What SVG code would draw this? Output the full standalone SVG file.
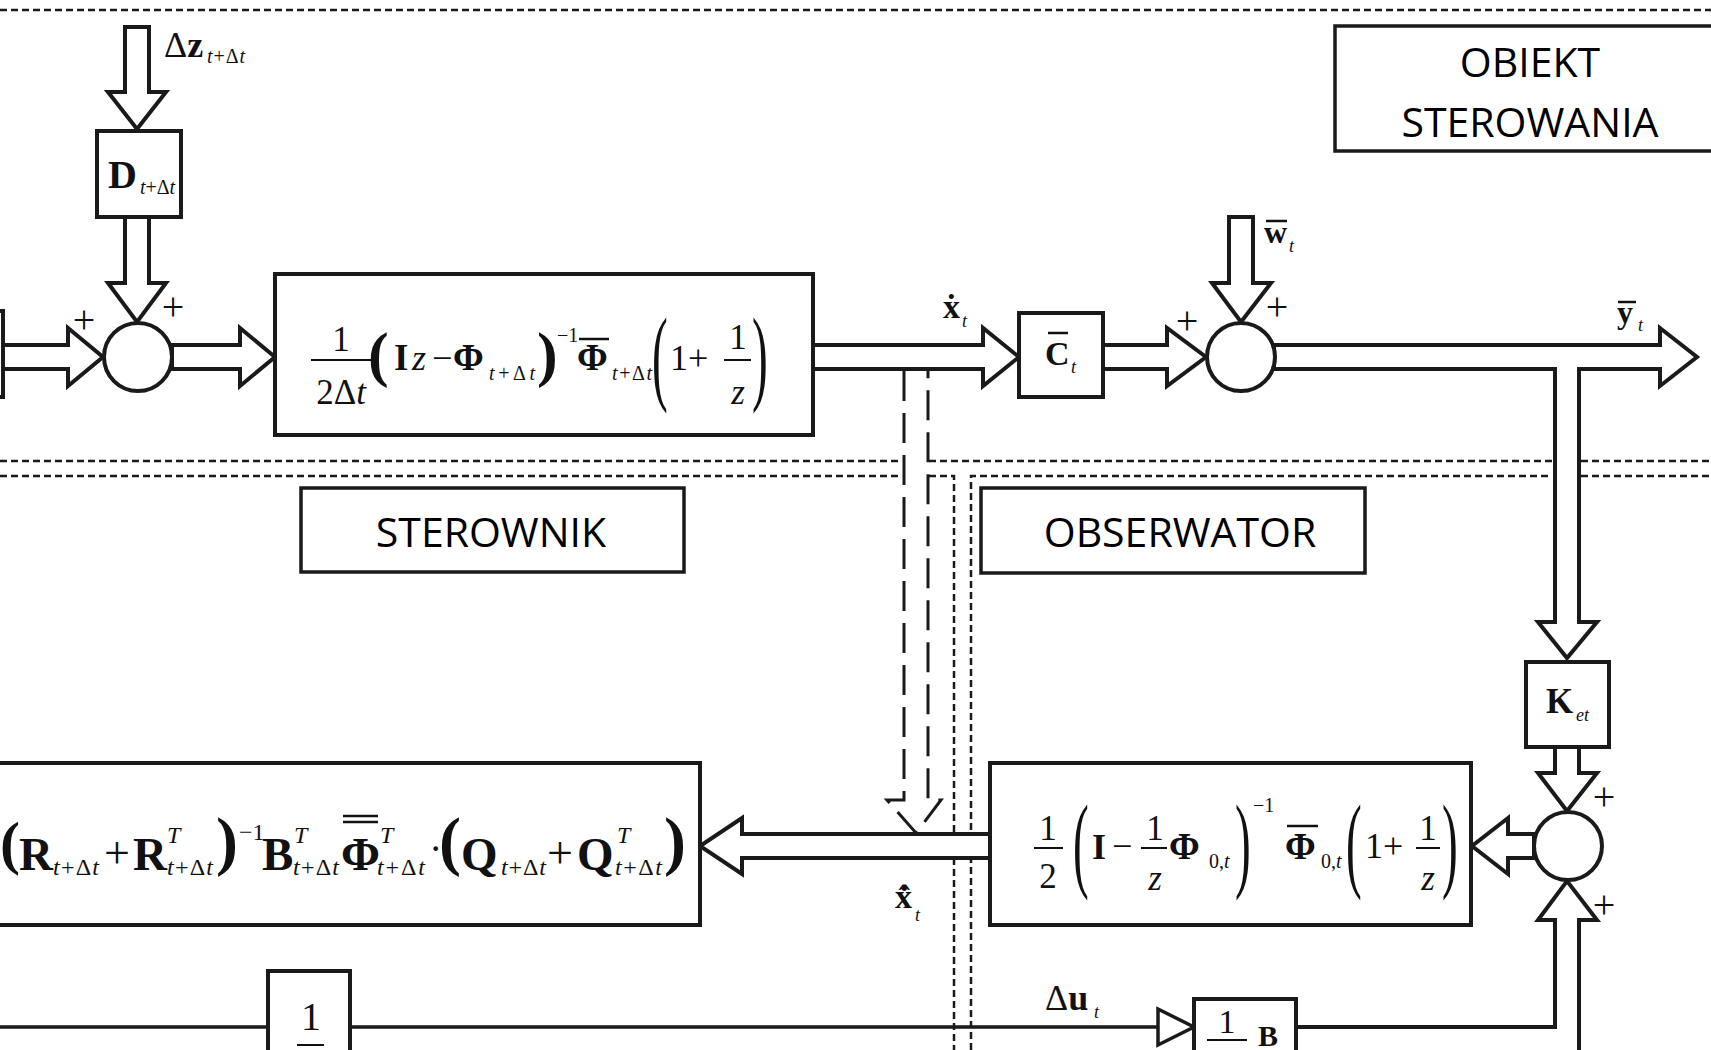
<svg xmlns="http://www.w3.org/2000/svg" width="1711" height="1050" viewBox="0 0 1711 1050">
<style>
.box{fill:#fff;stroke:#1a1a1a;stroke-width:4}
.frame{fill:#fff;stroke:#1a1a1a;stroke-width:3.5}
.arr{fill:#fff;stroke:#1a1a1a;stroke-width:4;stroke-linejoin:miter}
.sum{fill:#fff;stroke:#1a1a1a;stroke-width:4}
.thin{fill:none;stroke:#1a1a1a;stroke-width:3.5}
.region{fill:none;stroke:#1a1a1a;stroke-width:2.5;stroke-dasharray:7 4}
.ldash{fill:none;stroke:#1a1a1a;stroke-width:3;stroke-dasharray:30 12}
.bar{stroke:#111;stroke-width:2}
.m{font-family:"Liberation Serif",serif;fill:#111}
.b{font-weight:bold}
.i{font-style:italic}
.lbl{font-family:"Open Sans","Liberation Sans",sans-serif;font-size:41px;fill:#000;text-anchor:middle}
.pl{font-family:"Liberation Serif",serif;font-size:40px;fill:#111;text-anchor:middle}
</style>

<!-- regions -->
<g id="regions">
<path class="region" d="M0,10 H1711"/>
<path class="region" d="M0,461 H902 M929,461 H1552 M1581,461 H1711"/>
<path class="region" d="M0,476 H902 M929,476 H954 V1050"/>
<path class="region" d="M971,1050 V476 H1552 M1581,476 H1711"/>
</g>

<!-- connectors -->
<g id="connectors">
<path class="arr" d="M3,345 H68 V328 L103,357 L68,386 V369 H3 Z"/>
<path class="arr" d="M125,27 H149 V92 H166 L137,129 L108,92 H125 Z"/>
<path class="arr" d="M125,217 H149 V283 H166 L137,322 L108,283 H125 Z"/>
<path class="arr" d="M172,345 H240 V328 L275,357 L240,386 V369 H172 Z"/>
<path class="arr" d="M813,345 H983 V328 L1019,357 L983,386 V369 H813 Z"/>
<path class="arr" d="M1103,345 H1167 V328 L1206,357 L1167,386 V369 H1103 Z"/>
<path class="arr" d="M1229,217 H1253 V283 H1271 L1241,322 L1212,283 H1229 Z"/>
<path class="arr" d="M1274,345 H1660 V328 L1697,357 L1660,386 V369 H1579 V622 H1597 L1567,658 L1538,622 H1555 V369 H1274 Z"/>
<path class="arr" d="M1555,747 V773 H1538 L1567,811 L1597,773 H1579 V747 Z"/>
<path class="arr" d="M1534,834 H1508 V818 L1472,846 L1508,874 V858 H1534 Z"/>
<path class="arr" d="M1579,1060 V920 H1597 L1567,881 L1538,920 H1555 V1027 H1296 V1060 Z"/>
<path class="arr" d="M990,834 H742 V818 L700,846 L742,874 V858 H990 Z"/>
<path class="ldash" d="M904,371 V800 H887 L916,833 L941,800 H928 V371"/>
<path class="thin" d="M0,1027 H268 M350,1027 H1158"/>
<path class="arr" style="stroke-width:3.5" d="M1158,1009 L1194,1027 L1158,1045 Z"/>
</g>

<!-- left input block edge -->
<g id="input-block"><rect class="box" x="-20" y="311" width="23" height="86"/></g>

<!-- summing junctions -->
<g id="sum1"><circle class="sum" cx="138" cy="357" r="34"/>
<text class="pl" x="84" y="333">+</text><text class="pl" x="173" y="320">+</text></g>
<g id="sum2"><circle class="sum" cx="1241" cy="357" r="34"/>
<text class="pl" x="1187" y="334">+</text><text class="pl" x="1277" y="320">+</text></g>
<g id="sum3"><circle class="sum" cx="1568" cy="846" r="34"/>
<text class="pl" x="1604" y="810">+</text><text class="pl" x="1604" y="918">+</text></g>

<!-- D block -->
<g id="D">
<rect class="box" x="97" y="131" width="84" height="86"/>
<text class="m b" x="108" y="188" font-size="40">D</text>
<text class="m" x="140" y="194" font-size="20" textLength="35" lengthAdjust="spacing"><tspan class="i">t</tspan>+Δ<tspan class="i">t</tspan></text>
</g>
<g id="dz-label">
<text class="m" x="164" y="57" font-size="36">Δ<tspan class="b">z</tspan></text>
<text class="m" x="207" y="63" font-size="20" textLength="38" lengthAdjust="spacing"><tspan class="i">t</tspan>+Δ<tspan class="i">t</tspan></text>
</g>

<!-- plant block -->
<g id="plant">
<rect class="box" x="275" y="274" width="538" height="161"/>
<text class="m" x="341" y="351" font-size="35" text-anchor="middle">1</text>
<line class="bar" x1="311" y1="360" x2="372" y2="360"/>
<text class="m" x="341" y="404" font-size="35" text-anchor="middle">2Δ<tspan class="i">t</tspan></text>
<text class="m b" x="368" y="375" font-size="62">(</text>
<text class="m b" x="394" y="370" font-size="37">I</text>
<text class="m i" x="412" y="370" font-size="36">z</text>
<text class="m" x="432" y="370" font-size="36">−</text>
<text class="m b" x="453" y="370" font-size="37">Φ</text>
<text class="m" x="489" y="380" font-size="20" textLength="46" lengthAdjust="spacing"><tspan class="i">t</tspan>+Δ<tspan class="i">t</tspan></text>
<text class="m b" x="537" y="375" font-size="62">)</text>
<text class="m" x="557" y="342" font-size="20">−1</text>
<text class="m b" x="577" y="370" font-size="37">Φ</text>
<line class="bar" x1="579" y1="339" x2="609" y2="339" style="stroke-width:2.5"/>
<text class="m" x="612" y="380" font-size="20" textLength="40" lengthAdjust="spacing"><tspan class="i">t</tspan>+Δ<tspan class="i">t</tspan></text>
<text class="m" transform="translate(652,391) scale(0.45,1)" font-size="105">(</text>
<text class="m" x="670" y="370" font-size="36">1+</text>
<text class="m" x="738" y="349" font-size="35" text-anchor="middle">1</text>
<line class="bar" x1="724" y1="360" x2="751" y2="360"/>
<text class="m i" x="738" y="404" font-size="35" text-anchor="middle">z</text>
<text class="m" transform="translate(752,391) scale(0.45,1)" font-size="105">)</text>
</g>
<g id="xdot-label">
<text class="m b" x="943" y="318" font-size="34">x&#x307;</text>
<text class="m i" x="962" y="327" font-size="18">t</text>
</g>

<!-- C block -->
<g id="C">
<rect class="box" x="1019" y="313" width="84" height="84"/>
<text class="m b" x="1045" y="365" font-size="34">C</text>
<line class="bar" x1="1048" y1="333" x2="1068" y2="333" style="stroke-width:2.5"/>
<text class="m i" x="1071" y="373" font-size="18">t</text>
</g>
<g id="w-label">
<text class="m b" x="1264" y="243" font-size="32">w</text>
<line class="bar" x1="1266" y1="221" x2="1287" y2="221" style="stroke-width:2.5"/>
<text class="m i" x="1289" y="252" font-size="18">t</text>
</g>
<g id="y-label">
<text class="m b" x="1617" y="323" font-size="32">y</text>
<line class="bar" x1="1618" y1="302" x2="1636" y2="302" style="stroke-width:2.5"/>
<text class="m i" x="1638" y="331" font-size="18">t</text>
</g>

<!-- titles -->
<g id="obiekt">
<rect class="frame" x="1335" y="26" width="390" height="125"/>
<text class="lbl" x="1530" y="77">OBIEKT</text>
<text class="lbl" x="1530" y="137">STEROWANIA</text>
</g>
<g id="sterownik">
<rect class="frame" x="301" y="488" width="383" height="84"/>
<text class="lbl" x="491" y="547">STEROWNIK</text>
</g>
<g id="obserwator">
<rect class="frame" x="981" y="488" width="384" height="85"/>
<text class="lbl" x="1180" y="547">OBSERWATOR</text>
</g>

<!-- K block -->
<g id="K">
<rect class="box" x="1526" y="662" width="83" height="85"/>
<text class="m b" x="1546" y="713" font-size="35">K</text>
<text class="m i" x="1576" y="721" font-size="18">et</text>
</g>

<!-- observer block -->
<g id="observer">
<rect class="box" x="990" y="763" width="481" height="162"/>
<text class="m" x="1048" y="840" font-size="35" text-anchor="middle">1</text>
<line class="bar" x1="1034" y1="848" x2="1063" y2="848"/>
<text class="m" x="1048" y="888" font-size="35" text-anchor="middle">2</text>
<text class="m" transform="translate(1073,878) scale(0.45,1)" font-size="105">(</text>
<text class="m b" x="1092" y="859" font-size="36">I</text>
<text class="m" x="1112" y="858" font-size="36">−</text>
<text class="m" x="1155" y="840" font-size="35" text-anchor="middle">1</text>
<line class="bar" x1="1141" y1="848" x2="1167" y2="848"/>
<text class="m i" x="1155" y="890" font-size="35" text-anchor="middle">z</text>
<text class="m b" x="1169" y="859" font-size="37">Φ</text>
<text class="m" x="1209" y="868" font-size="20">0,<tspan class="i">t</tspan></text>
<text class="m" transform="translate(1235,878) scale(0.45,1)" font-size="105">)</text>
<text class="m" x="1253" y="812" font-size="20">−1</text>
<text class="m b" x="1285" y="859" font-size="37">Φ</text>
<line class="bar" x1="1287" y1="826" x2="1318" y2="826" style="stroke-width:2.5"/>
<text class="m" x="1321" y="868" font-size="20">0,<tspan class="i">t</tspan></text>
<text class="m" transform="translate(1346,878) scale(0.45,1)" font-size="105">(</text>
<text class="m" x="1365" y="858" font-size="36">1+</text>
<text class="m" x="1428" y="840" font-size="35" text-anchor="middle">1</text>
<line class="bar" x1="1416" y1="848" x2="1440" y2="848"/>
<text class="m i" x="1428" y="890" font-size="35" text-anchor="middle">z</text>
<text class="m" transform="translate(1442,878) scale(0.45,1)" font-size="105">)</text>
</g>
<g id="xhat-label">
<text class="m b" x="895" y="908" font-size="34">x&#x302;&#x307;</text>
<text class="m i" x="915" y="921" font-size="18">t</text>
</g>

<!-- controller block -->
<g id="controller">
<rect class="box" x="-10" y="763" width="710" height="162"/>
<text class="m b" x="0" y="863" font-size="60">(</text>
<text class="m b" x="19" y="870" font-size="47">R</text>
<text class="m" x="53" y="875" font-size="24" textLength="46" lengthAdjust="spacing"><tspan class="i">t</tspan>+Δ<tspan class="i">t</tspan></text>
<text class="m" x="104" y="868" font-size="46">+</text>
<text class="m b" x="133" y="870" font-size="47">R</text>
<text class="m i" x="167" y="843" font-size="24">T</text>
<text class="m" x="167" y="875" font-size="24" textLength="46" lengthAdjust="spacing"><tspan class="i">t</tspan>+Δ<tspan class="i">t</tspan></text>
<text class="m b" x="216" y="863" font-size="66">)</text>
<text class="m" x="239" y="840" font-size="24">−1</text>
<text class="m b" x="262" y="870" font-size="47">B</text>
<text class="m i" x="294" y="843" font-size="24">T</text>
<text class="m" x="293" y="875" font-size="24" textLength="46" lengthAdjust="spacing"><tspan class="i">t</tspan>+Δ<tspan class="i">t</tspan></text>
<text class="m b" x="341" y="870" font-size="47">Φ</text>
<line class="bar" x1="343" y1="816" x2="378" y2="816" style="stroke-width:2.5"/>
<line class="bar" x1="343" y1="822" x2="378" y2="822" style="stroke-width:2.5"/>
<text class="m i" x="380" y="843" font-size="24">T</text>
<text class="m" x="377" y="875" font-size="24" textLength="48" lengthAdjust="spacing"><tspan class="i">t</tspan>+Δ<tspan class="i">t</tspan></text>
<text class="m" x="429" y="862" font-size="40">·</text>
<text class="m b" x="439" y="863" font-size="66">(</text>
<text class="m b" x="461" y="870" font-size="47">Q</text>
<text class="m" x="501" y="875" font-size="24" textLength="45" lengthAdjust="spacing"><tspan class="i">t</tspan>+Δ<tspan class="i">t</tspan></text>
<text class="m" x="547" y="868" font-size="46">+</text>
<text class="m b" x="577" y="870" font-size="47">Q</text>
<text class="m i" x="617" y="843" font-size="24">T</text>
<text class="m" x="615" y="875" font-size="24" textLength="47" lengthAdjust="spacing"><tspan class="i">t</tspan>+Δ<tspan class="i">t</tspan></text>
<text class="m b" x="664" y="863" font-size="66">)</text>
</g>

<!-- bottom blocks -->
<g id="int-block">
<rect class="box" x="268" y="971" width="82" height="100"/>
<text class="m" x="311" y="1030" font-size="40" text-anchor="middle">1</text>
<line class="bar" x1="297" y1="1045" x2="324" y2="1045"/>
</g>
<g id="B-block">
<rect class="box" x="1194" y="999" width="102" height="70"/>
<text class="m" x="1227" y="1033" font-size="34" text-anchor="middle">1</text>
<line class="bar" x1="1207" y1="1040" x2="1247" y2="1040"/>
<text class="m b" x="1258" y="1046" font-size="30">B</text>
</g>
<g id="du-label">
<text class="m" x="1045" y="1010" font-size="36">Δ<tspan class="b">u</tspan></text>
<text class="m i" x="1094" y="1018" font-size="18">t</text>
</g>
</svg>
